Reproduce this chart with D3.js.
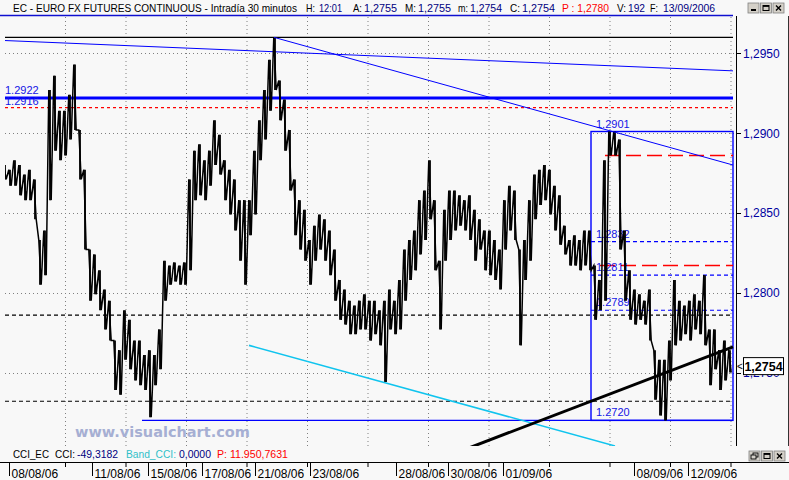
<!DOCTYPE html>
<html><head><meta charset="utf-8">
<script src="https://cdn.jsdelivr.net/npm/d3@7"></script>
<style>body{margin:0;background:#f8f8f8;} svg{display:block}</style>
</head><body><svg id="c" width="789" height="480"></svg>
<script>
// ---------------- DATA ----------------
const sampleStep = 5; // 30-min bars per sample
const priceHigh = [
1.2880,1.2877,1.2883,1.2880,1.2874,1.2877,1.2871,1.2833,1.2839,1.2927,
1.2936,1.2914,1.2914,1.2924,1.2943,1.2902,1.2877,1.2827,1.2824,1.2814,
1.2802,1.2795,1.2770,1.2764,1.2789,1.2783,1.2770,1.2770,1.2761,1.2764,
1.2761,1.2777,1.2820,1.2817,1.2819,1.2817,1.2819,1.2871,1.2889,1.2893,
1.2883,1.2889,1.2908,1.2899,1.2883,1.2877,1.2871,1.2858,1.2858,1.2858,
1.2889,1.2908,1.2927,1.2946,1.2960,1.2933,1.2921,1.2902,1.2871,1.2858,
1.2852,1.2833,1.2842,1.2849,1.2846,1.2839,1.2827,1.2808,1.2802,1.2795,
1.2792,1.2795,1.2799,1.2795,1.2795,1.2789,1.2795,1.2802,1.2795,1.2808,
1.2827,1.2833,1.2839,1.2858,1.2864,1.2883,1.2858,1.2820,1.2852,1.2864,
1.2864,1.2861,1.2858,1.2861,1.2852,1.2846,1.2839,1.2839,1.2833,1.2827,
1.2858,1.2867,1.2864,1.2827,1.2833,1.2858,1.2874,1.2877,1.2880,1.2877,
1.2867,1.2861,1.2842,1.2833,1.2836,1.2833,1.2839,1.2839,1.2817,1.2808,
1.2883,1.2901,1.2901,1.2896,1.2839,1.2814,1.2802,1.2799,1.2795,1.2802,
1.2764,1.2758,1.2758,1.2770,1.2808,1.2795,1.2792,1.2795,1.2799,1.2795,
1.2811,1.2777,1.2777,1.2764,1.2770,1.2764];
const priceLow = [
1.2871,1.2867,1.2867,1.2861,1.2858,1.2858,1.2846,1.2805,1.2811,1.2858,
1.2889,1.2883,1.2886,1.2896,1.2902,1.2871,1.2827,1.2795,1.2799,1.2789,
1.2777,1.2770,1.2739,1.2736,1.2758,1.2752,1.2745,1.2742,1.2739,1.2722,
1.2742,1.2752,1.2795,1.2805,1.2807,1.2805,1.2805,1.2814,1.2858,1.2861,
1.2858,1.2867,1.2880,1.2874,1.2858,1.2849,1.2839,1.2820,1.2805,1.2836,
1.2849,1.2883,1.2896,1.2914,1.2927,1.2908,1.2889,1.2864,1.2836,1.2827,
1.2820,1.2805,1.2820,1.2827,1.2820,1.2811,1.2795,1.2783,1.2780,1.2774,
1.2774,1.2777,1.2777,1.2770,1.2774,1.2767,1.2744,1.2777,1.2774,1.2777,
1.2795,1.2808,1.2814,1.2824,1.2833,1.2846,1.2814,1.2777,1.2820,1.2833,
1.2839,1.2842,1.2839,1.2833,1.2820,1.2827,1.2814,1.2811,1.2808,1.2802,
1.2827,1.2839,1.2833,1.2767,1.2808,1.2820,1.2846,1.2855,1.2858,1.2849,
1.2839,1.2830,1.2824,1.2817,1.2817,1.2814,1.2817,1.2814,1.2783,1.2789,
1.2795,1.2886,1.2886,1.2827,1.2795,1.2783,1.2780,1.2783,1.2780,1.2770,
1.2733,1.2723,1.2720,1.2745,1.2767,1.2770,1.2774,1.2770,1.2777,1.2774,
1.2767,1.2742,1.2752,1.2739,1.2745,1.2750];
const totalBars = 728;
const dateLabels = ["08/08/06","11/08/06","15/08/06","17/08/06","21/08/06","23/08/06","28/08/06","30/08/06","01/09/06","08/09/06","12/09/06"];
const dateStartBar = [4,87,143,197,250,305,391,443,498,629,683];
const yTicks = [1.2950,1.2900,1.2850,1.2800,1.2750];
const lastClose = 1.2754;

// drawn studies (bar, value)
const peakLevel = [[0,1.2960],[728,1.2960]];
const longDownTrend = [[0,1.2958],[728,1.2939]];
const peakDownTrend = [[269,1.2960],[728,1.2880]];
const upTrend = [[465,1.2703],[728,1.2766]];
const cyanTrend = [[244,1.2767],[610,1.2704]];
const level1 = [1.2922, 1.2916];          // thick blue, red dotted
const blackDashedLevels = [1.2786, 1.2732];
const supportLevel = [[137,1.2720],[728,1.2720]];
const fiboBox = {b0:586, b1:728, hi:1.2901, lo:1.2720};
const fiboLevels = [1.2832, 1.2811, 1.2789];
const redTargets = [[600,1.2886],[595,1.2817]];

const titleParts = [
 ["EC - EURO FX FUTURES CONTINUOUS - Intradía 30 minutos","k"],["H:","k"],["12:01","v"],["A:","k"],["1,2755","v"],
 ["M:","k"],["1,2755","v"],["m:","k"],["1,2754","v"],["C:","k"],["1,2754","v"],["P : 1,2780","r"],
 ["V:","k"],["192","v"],["F:","k"],["13/09/2006","v"]];
const cciParts = [["CCI_EC","k"],["CCI:","k"],["-49,3182","v"],["Band_CCI:","c"],["0,0000","v"],["P: 11.950,7631","r"]];

// ---------------- LAYOUT ----------------
const svg = d3.select("#c");
const plot = {l:5, r:736, t:20, b:446};
const x = d3.scaleLinear().domain([0,totalBars]).range([5,733]);
const y = d3.scaleLinear().domain([1.2750,1.2950]).range([372.5,53.3]);
const navy="#000080", red="#ff0000", blue="#0000ff", cyan="#10c4ee";
const colorOf = {k:"#000", v:navy, r:red, c:"#30c0c8"};
const FONT = "'Liberation Sans', Arial, sans-serif";

svg.append("rect").attr("width",789).attr("height",480).attr("fill","#f8f8f8");
svg.append("defs").append("clipPath").attr("id","pc").append("rect")
  .attr("x",plot.l).attr("y",plot.t).attr("width",plot.r-plot.l).attr("height",plot.b-plot.t);

// title
const titleX = [13,306,319,353,364,405,418,458,470,510,522,562,617,628,650,663];
const titleW = [284,9,23,9,33,11,33,10,32,10,33,47,9,17,8,52];
titleParts.forEach((p,i)=>{
  svg.append("text").attr("x",titleX[i]).attr("y",12).attr("font-family",FONT).attr("font-size",i===0?10:10.5)
    .attr("fill",colorOf[p[1]]).attr("textLength",titleW[i]).attr("lengthAdjust","spacingAndGlyphs").text(p[0]);
});
svg.append("line").attr("x1",0).attr("x2",733).attr("y1",15.5).attr("y2",15.5).attr("stroke","#1010d0").attr("stroke-width",1.5);

// window buttons
function buttons(x0,y0,kinds){
  kinds.forEach((k,i)=>{
    const bx=x0+i*12.5;
    const g=svg.append("g").attr("transform",`translate(${bx},${y0})`);
    g.append("rect").attr("width",11).attr("height",10).attr("fill","#d4d0c8").attr("stroke","#808080").attr("stroke-width",0.8);
    if(k==="min") g.append("rect").attr("x",3).attr("y",6).attr("width",5).attr("height",2).attr("fill","#000");
    if(k==="max"){g.append("rect").attr("x",2.5).attr("y",2.5).attr("width",6).attr("height",5).attr("fill","none").attr("stroke","#000");g.append("line").attr("x1",2.5).attr("x2",8.5).attr("y1",3.2).attr("y2",3.2).attr("stroke","#000").attr("stroke-width",1.4);}
    if(k==="close"){g.append("path").attr("d","M3,2.5L8,7.5M8,2.5L3,7.5").attr("stroke","#000").attr("stroke-width",1.4);}
    if(k==="restore"){g.append("rect").attr("x",4).attr("y",2).attr("width",5).attr("height",4).attr("fill","none").attr("stroke","#000").attr("stroke-width",0.9);g.append("rect").attr("x",2).attr("y",4).attr("width",5).attr("height",4).attr("fill","#d4d0c8").attr("stroke","#000").attr("stroke-width",0.9);}
  });
}
buttons(748,3,["min","max","close"]);
buttons(749,451,["restore","max","close"]);

// grid
const gridBars = d3.range(60, totalBars, 60.5);
const grid = svg.append("g");
grid.selectAll("line.v").data(gridBars).join("line").attr("class","v")
  .attr("x1",d=>x(d)+0.5).attr("x2",d=>x(d)+0.5).attr("y1",17).attr("y2",446)
  .attr("stroke","#808080").attr("stroke-dasharray","1,3");
grid.selectAll("line.h").data(yTicks).join("line").attr("class","h")
  .attr("x1",plot.l).attr("x2",plot.r).attr("y1",d=>Math.round(y(d))+0.5).attr("y2",d=>Math.round(y(d))+0.5)
  .attr("stroke","#808080").attr("stroke-dasharray","1,3");

const P = svg.append("g").attr("clip-path","url(#pc)");
const ln = (g,pts,stroke,w,dash)=> g.append("line")
  .attr("x1",x(pts[0][0])).attr("y1",y(pts[0][1])).attr("x2",x(pts[1][0])).attr("y2",y(pts[1][1]))
  .attr("stroke",stroke).attr("stroke-width",w).attr("stroke-dasharray",dash||null);

// levels
ln(P,peakLevel,"#000",1.2);
ln(P,longDownTrend,blue,1);
ln(P,[[0,level1[0]],[totalBars,level1[0]]],blue,3);
ln(P,[[0,level1[1]],[totalBars,level1[1]]],red,1.2,"3,3");
blackDashedLevels.forEach(v=>ln(P,[[0,v],[totalBars,v]],"#000",1.2,"4,3"));
ln(P,supportLevel,blue,1.2);
// fibo box
P.append("rect").attr("x",x(fiboBox.b0)).attr("y",y(fiboBox.hi)).attr("width",x(fiboBox.b1)-x(fiboBox.b0))
  .attr("height",y(fiboBox.lo)-y(fiboBox.hi)).attr("fill","none").attr("stroke",blue).attr("stroke-width",1.4);
fiboLevels.forEach(v=>ln(P,[[fiboBox.b0,v],[fiboBox.b1,v]],blue,1.2,"4,3"));
redTargets.forEach(t=>ln(P,[t,[totalBars,t[1]]],red,1.5,"15,6"));
// labels
const lbl = (px,py,t)=>P.append("text").attr("x",px).attr("y",py).attr("font-family",FONT).attr("font-size",11).attr("fill","#1414e6").text(t);
const fmt = d3.format(".4f");
lbl(5,94,fmt(level1[0])); lbl(5,104.5,fmt(level1[1]));
lbl(596,y(fiboBox.hi)-4,fmt(fiboBox.hi));
fiboLevels.forEach(v=>lbl(596,y(v)-4,fmt(v)));
lbl(596,y(fiboBox.lo)-4,fmt(fiboBox.lo));

// watermark
svg.append("text").attr("x",75).attr("y",437).attr("font-family","'DejaVu Sans', Verdana, sans-serif")
  .attr("font-weight","bold").attr("font-size",14.5).attr("fill","#a6afd3").text("www.visualchart.com");

// price
const bars = priceHigh.map((h,i)=>({b:i*sampleStep, h, l:priceLow[i]}));
const zig = [];
bars.forEach(d=>{ zig.push([x(d.b)-1.2, y(d.h)]); zig.push([x(d.b)+1.2, y(d.l)]); });
P.append("path").attr("d",d3.line()(zig)).attr("fill","none").attr("stroke","#000").attr("stroke-width",1.5);
P.selectAll("line.bar").data(bars).join("line").attr("class","bar")
  .attr("x1",d=>x(d.b)).attr("x2",d=>x(d.b)).attr("y1",d=>y(d.h)).attr("y2",d=>y(d.l))
  .attr("stroke","#000").attr("stroke-width",1.8);

// trend lines over price
ln(P,peakDownTrend,blue,1);
ln(P,cyanTrend,cyan,1.6);
ln(P,upTrend,"#000",3);

// right axis
svg.append("rect").attr("x",737).attr("y",16).attr("width",51).attr("height",430).attr("fill","#f8f8f8");
svg.append("line").attr("x1",736.5).attr("x2",736.5).attr("y1",16).attr("y2",446).attr("stroke","#000");
svg.append("line").attr("x1",788.5).attr("x2",788.5).attr("y1",16).attr("y2",446).attr("stroke","#333");
const ya = svg.append("g");
ya.selectAll("line").data(yTicks).join("line").attr("x1",736).attr("x2",741)
  .attr("y1",d=>Math.round(y(d))+0.5).attr("y2",d=>Math.round(y(d))+0.5).attr("stroke","#000");
ya.selectAll("text").data(yTicks).join("text").attr("x",743).attr("y",d=>y(d)+4.5)
  .attr("font-family",FONT).attr("font-size",12).attr("fill","#0000a0")
  .text(d=>fmt(d).replace(".",","));
// last price box
const ly = y(lastClose);
svg.append("text").attr("x",737).attr("y",ly+4).attr("font-family",FONT).attr("font-size",10).text("<");
svg.append("rect").attr("x",743.5).attr("y",ly-8.5).attr("width",40).attr("height",17).attr("fill","#fff").attr("stroke","#000");
svg.append("text").attr("x",763.5).attr("y",ly+4.5).attr("text-anchor","middle").attr("font-family",FONT)
  .attr("font-weight","bold").attr("font-size",12.5).text(lastClose.toFixed(4).replace(".",","));

// CCI header
const cciX=[13,55,77,126,179,217];
const cciW=[36,20,41,50,32,71];
cciParts.forEach((p,i)=>svg.append("text").attr("x",cciX[i]).attr("y",458).attr("font-family",FONT).attr("font-size",10.5)
  .attr("fill",colorOf[p[1]]).attr("textLength",cciW[i]).attr("lengthAdjust","spacingAndGlyphs").text(p[0]));

// x axis
svg.append("line").attr("x1",0).attr("x2",789).attr("y1",462.5).attr("y2",462.5).attr("stroke","#000");
svg.selectAll("line.gt").data(gridBars).join("line").attr("class","gt")
  .attr("x1",d=>x(d)+0.5).attr("x2",d=>x(d)+0.5).attr("y1",462).attr("y2",467).attr("stroke","#000");
svg.selectAll("line.dt").data(dateStartBar).join("line").attr("class","dt")
  .attr("x1",d=>x(d)+0.5).attr("x2",d=>x(d)+0.5).attr("y1",462).attr("y2",476).attr("stroke","#000");
svg.selectAll("text.dl").data(dateLabels).join("text").attr("class","dl")
  .attr("x",(d,i)=>x(dateStartBar[i])+2.5).attr("y",478).attr("font-family",FONT).attr("font-size",12).text(d=>d);
</script></body></html>
